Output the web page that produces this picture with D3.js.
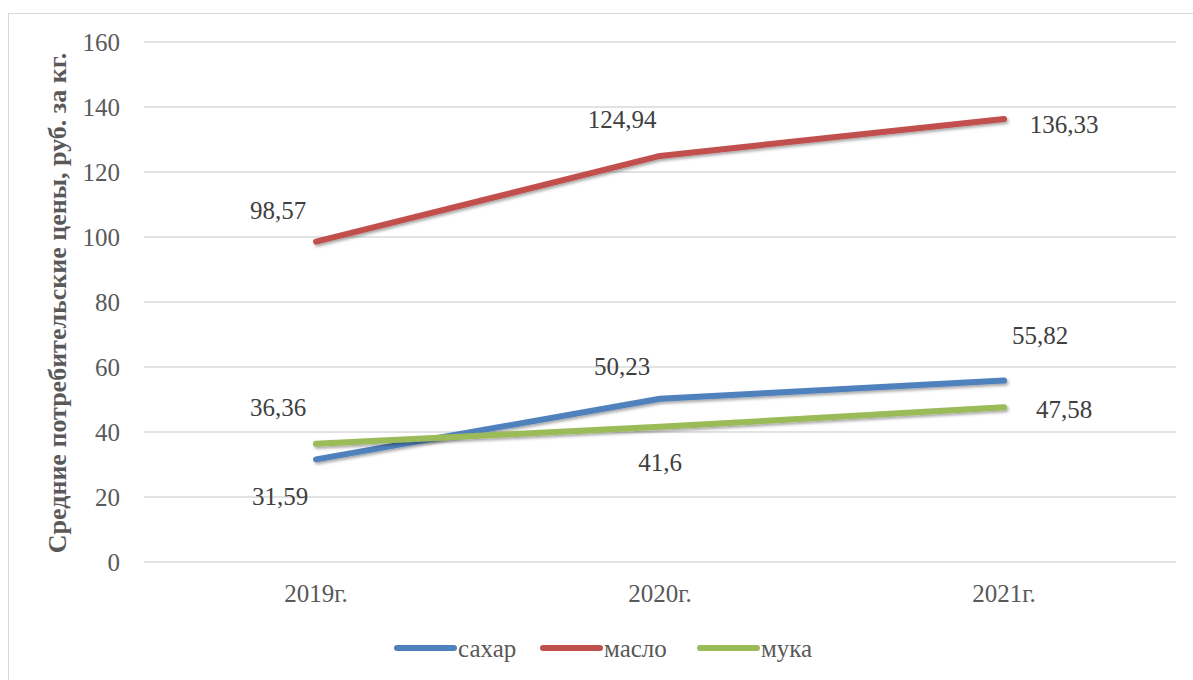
<!DOCTYPE html>
<html><head><meta charset="utf-8">
<script src="https://cdn.jsdelivr.net/npm/d3@7"></script>
<style>body{margin:0;background:#fff}svg{display:block}svg text{font-family:"Liberation Serif","DejaVu Serif",serif !important}</style>
</head><body>
<svg id="c" width="1193" height="680"></svg>
<script>
const categories = ["2019г.", "2020г.", "2021г."];
const sugar = [31.59, 50.23, 55.82];
const butter = [98.57, 124.94, 136.33];
const flour = [36.36, 41.6, 47.58];
const seriesNames = ["сахар", "масло", "мука"];
const yTicks = [0, 20, 40, 60, 80, 100, 120, 140, 160];
const labelText = {
  "сахар": ["31,59", "50,23", "55,82"],
  "масло": ["98,57", "124,94", "136,33"],
  "мука": ["36,36", "41,6", "47,58"]
};

(function () {
const FONT = '"Liberation Serif", "DejaVu Serif", serif';
const colors = ["#4F81BD", "#C0504D", "#9BBB59"];
const labelOffsets = {
  "сахар": [[-36, 37], [-38, -33], [36, -45]],
  "масло": [[-38, -31], [-38, -37], [60, 5]],
  "мука": [[-38, -37], [0, 35], [60, 2]]
};

const svg = d3.select("#c").attr("font-family", FONT);
svg.append("rect").attr("x", 8.5).attr("y", 13.5).attr("width", 1200).attr("height", 700)
  .attr("fill", "none").attr("stroke", "#d9d9d9").attr("stroke-width", 1);

const pLeft = 144, pRight = 1176, pTop = 42, pBottom = 562;
const x = d3.scaleBand().domain(categories).range([pLeft, pRight]);
const y = d3.scaleLinear().domain([0, 160]).range([pBottom, pTop]);

const defs = svg.append("defs");
const f = defs.append("filter").attr("id", "sh").attr("x", "-10%").attr("y", "-50%").attr("width", "120%").attr("height", "200%");
f.append("feDropShadow").attr("dx", 1.5).attr("dy", 2).attr("stdDeviation", 1.5).attr("flood-color", "#000").attr("flood-opacity", 0.35);

svg.append("g").selectAll("line").data(yTicks).join("line")
  .attr("x1", pLeft).attr("x2", pRight).attr("y1", d => y(d)).attr("y2", d => y(d))
  .attr("stroke", "#d9d9d9").attr("stroke-width", 1.5);

const yAxis = d3.axisLeft(y).tickValues(yTicks).tickSize(0).tickPadding(24);
const ga = svg.append("g").attr("transform", `translate(${pLeft},0)`).call(yAxis);
ga.attr("font-family", FONT);
ga.select(".domain").remove();
ga.selectAll("text").attr("font-size", 25).attr("fill", "#595959");

const xAxis = d3.axisBottom(x).tickSize(0).tickPadding(22);
const gx = svg.append("g").attr("transform", `translate(0,${pBottom})`).call(xAxis);
gx.attr("font-family", FONT);
gx.select(".domain").remove();
gx.selectAll("text").attr("font-size", 25).attr("fill", "#595959");

svg.append("text").attr("transform", `translate(66,303) rotate(-90)`)
  .attr("text-anchor", "middle").attr("font-size", 26).attr("font-weight", "bold").attr("fill", "#595959")
  .text("Средние потребительские цены, руб. за кг.");

const data = [sugar, butter, flour];
const cx = c => x(c) + x.bandwidth() / 2;
const line = d3.line().x((d, i) => cx(categories[i])).y(d => y(d));

data.forEach((vals, si) => {
  svg.append("path").datum(vals).attr("d", line).attr("fill", "none")
    .attr("stroke", colors[si]).attr("stroke-width", 6).attr("stroke-linecap", "round")
    .attr("stroke-linejoin", "round").attr("filter", "url(#sh)");
});

data.forEach((vals, si) => {
  const name = seriesNames[si];
  svg.append("g").selectAll("text").data(vals).join("text")
    .attr("x", (d, i) => cx(categories[i]) + labelOffsets[name][i][0])
    .attr("y", (d, i) => y(d) + labelOffsets[name][i][1])
    .attr("dy", "0.35em").attr("text-anchor", "middle")
    .attr("font-size", 25).attr("fill", "#404040")
    .text((d, i) => labelText[name][i]);
});

const legendX = [397, 543, 700];
const lg = svg.append("g");
seriesNames.forEach((n, i) => {
  lg.append("line").attr("x1", legendX[i]).attr("x2", legendX[i] + 57).attr("y1", 648).attr("y2", 648)
    .attr("stroke", colors[i]).attr("stroke-width", 6).attr("stroke-linecap", "round");
  lg.append("text").attr("x", legendX[i] + 61).attr("y", 648).attr("dy", "0.35em")
    .attr("font-size", 25).attr("fill", "#595959").text(n);
});
})();
</script>
</body></html>
